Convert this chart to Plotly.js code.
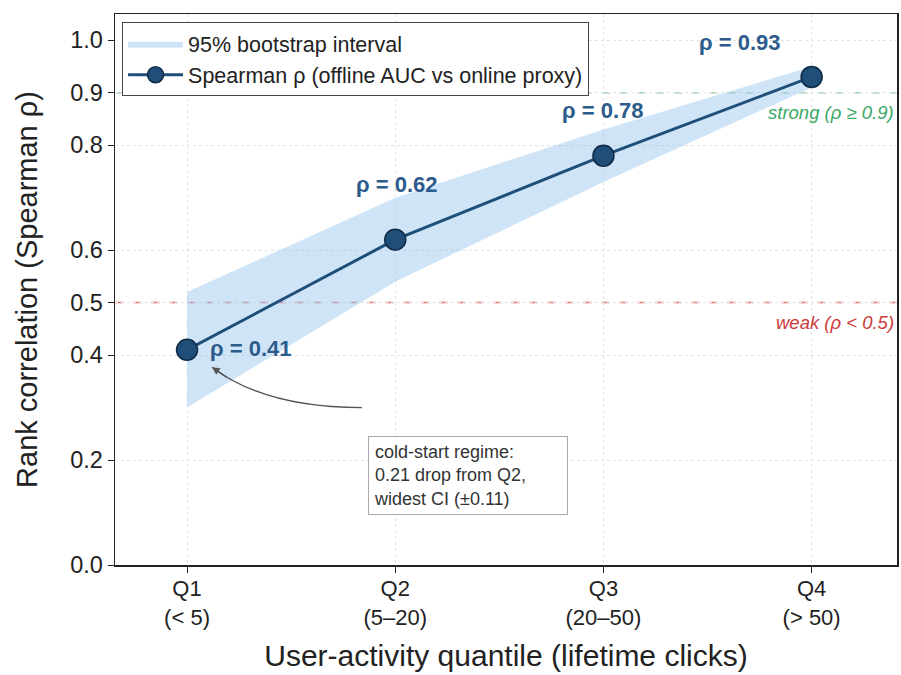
<!DOCTYPE html>
<html>
<head>
<meta charset="utf-8">
<script src="https://cdn.plot.ly/plotly-3.0.1.min.js"></script>
<style>html,body{margin:0;padding:0;background:#fff;}#chart{width:901px;height:675px;}</style>
</head>
<body>
<div id="chart"></div>
<script>
// ---- data ----
const quantiles = ["Q1", "Q2", "Q3", "Q4"];
const ranges = ["(< 5)", "(5–20)", "(20–50)", "(> 50)"];
const rho = [0.41, 0.62, 0.78, 0.93];
const ciLower = [0.30, 0.54, 0.73, 0.91];
const ciUpper = [0.52, 0.70, 0.83, 0.95];
const yTicks = [0.0, 0.2, 0.4, 0.5, 0.6, 0.8, 0.9, 1.0];
const strongThreshold = 0.9;
const weakThreshold = 0.5;

const xs = quantiles.map((_, i) => i);
const tickText = quantiles.map((q, i) => q + "<br>" + ranges[i]);

const FONT = "Liberation Sans, Arial, sans-serif";
const navy = "#1f4e79";
const labelColor = "#2c5b8c";

const band = {
  x: xs.concat(xs.slice().reverse()),
  y: ciUpper.concat(ciLower.slice().reverse()),
  type: "scatter", mode: "lines", fill: "toself",
  fillcolor: "rgba(135,190,235,0.4)", line: {width: 0},
  name: "95% bootstrap interval", hoverinfo: "skip"
};
const line = {
  x: xs, y: rho, type: "scatter", mode: "lines+markers",
  line: {color: navy, width: 3},
  marker: {size: 21, color: navy, line: {color: "#0f2a44", width: 1.5}},
  name: "Spearman ρ (offline AUC vs online proxy)"
};

// value label placement (pixel offsets)
const labelOffsets = [[21, 1, "left"], [2, 55, "center"], [0, 45, "center"], [-72, 34, "center"]];
const annotations = rho.map((v, i) => ({
  x: xs[i], y: v, xref: "x", yref: "y", text: "ρ = " + v.toFixed(2),
  showarrow: false, xshift: labelOffsets[i][0], yshift: labelOffsets[i][1],
  xanchor: labelOffsets[i][2], yanchor: "middle",
  font: {family: FONT, size: 22, color: labelColor, weight: "bold"}
}));

annotations.push({
  xref: "paper", yref: "y", x: 0.999, y: strongThreshold, yshift: -20,
  text: "<i>strong (ρ ≥ 0.9)</i>", showarrow: false, xanchor: "right", yanchor: "middle",
  font: {family: FONT, size: 18.5, color: "#3aa866"}
});
annotations.push({
  xref: "paper", yref: "y", x: 0.999, y: weakThreshold, yshift: -20,
  text: "<i>weak (ρ < 0.5)</i>", showarrow: false, xanchor: "right", yanchor: "middle",
  font: {family: FONT, size: 18.5, color: "#cc3b3b"}
});
// cold-start note
annotations.push({
  xref: "x", yref: "y", x: 0.87, y: 0.171, xanchor: "left", yanchor: "middle",
  text: "cold-start regime:<br>0.21 drop from Q2,<br>widest CI (±0.11)",
  align: "left", showarrow: false, bgcolor: "white", bordercolor: "#aaaaaa",
  borderwidth: 1, borderpad: 5, width: 188,
  font: {family: FONT, size: 18, color: "#333"}
});
// arrowhead
annotations.push({
  xref: "x", yref: "y", x: 0.12, y: 0.377, ax: 16, ay: 11, text: "",
  showarrow: true, arrowhead: 2, arrowsize: 1.2, arrowwidth: 1.3,
  arrowcolor: "#555", standoff: 0
});

const shapes = [
  {type: "line", xref: "paper", x0: 0, x1: 1, yref: "y", y0: strongThreshold, y1: strongThreshold,
   line: {color: "rgba(58,168,102,0.5)", width: 1.5, dash: "dash"}, layer: "below"},
  {type: "line", xref: "paper", x0: 0, x1: 1, yref: "y", y0: weakThreshold, y1: weakThreshold,
   line: {color: "rgba(214,60,60,0.7)", width: 1.5, dash: "dash"}, layer: "below"},
  {type: "path", xref: "x", yref: "y", path: "M 0.84,0.30 Q 0.375,0.300 0.12,0.377",
   line: {color: "#555", width: 1.3}}
];

const layout = {
  width: 901, height: 675,
  margin: {l: 115, r: 4, t: 14, b: 110},
  paper_bgcolor: "white", plot_bgcolor: "white",
  font: {family: FONT, color: "#222"},
  showlegend: true,
  legend: {x: 0.009, y: 0.985, xanchor: "left", yanchor: "top",
    bgcolor: "white", bordercolor: "#444", borderwidth: 1, itemwidth: 55,
    entrywidth: 510, entrywidthmode: "pixels",
    font: {family: FONT, size: 21.5, color: "#222"}, tracegroupgap: 0},
  xaxis: {
    range: [-0.346, 3.41], tickvals: xs, ticktext: tickText,
    showgrid: true, gridcolor: "#e4e4e4", griddash: "dot", gridwidth: 1,
    zeroline: false, showline: true, linecolor: "#222", linewidth: 1.5, mirror: true,
    ticks: "outside", ticklen: 6, tickcolor: "#222", ticklabelstandoff: -3,
    tickfont: {family: FONT, size: 22, color: "#222"},
    title: {text: "User-activity quantile (lifetime clicks)", font: {family: FONT, size: 30, color: "#222"}, standoff: 16}
  },
  yaxis: {
    range: [0, 1.05], tickvals: yTicks, ticktext: yTicks.map(v => v.toFixed(1)),
    showgrid: true, gridcolor: "#e4e4e4", griddash: "dot", gridwidth: 1,
    zeroline: false, showline: true, linecolor: "#222", linewidth: 1.5, mirror: true,
    ticks: "outside", ticklen: 6, tickcolor: "#222",
    tickfont: {family: FONT, size: 23.5, color: "#222"},
    title: {text: "Rank correlation (Spearman ρ)", font: {family: FONT, size: 29, color: "#222"}, standoff: 24}
  },
  annotations: annotations,
  shapes: shapes
};

Plotly.newPlot("chart", [band, line], layout, {displayModeBar: false, staticPlot: true});
</script>
</body>
</html>
